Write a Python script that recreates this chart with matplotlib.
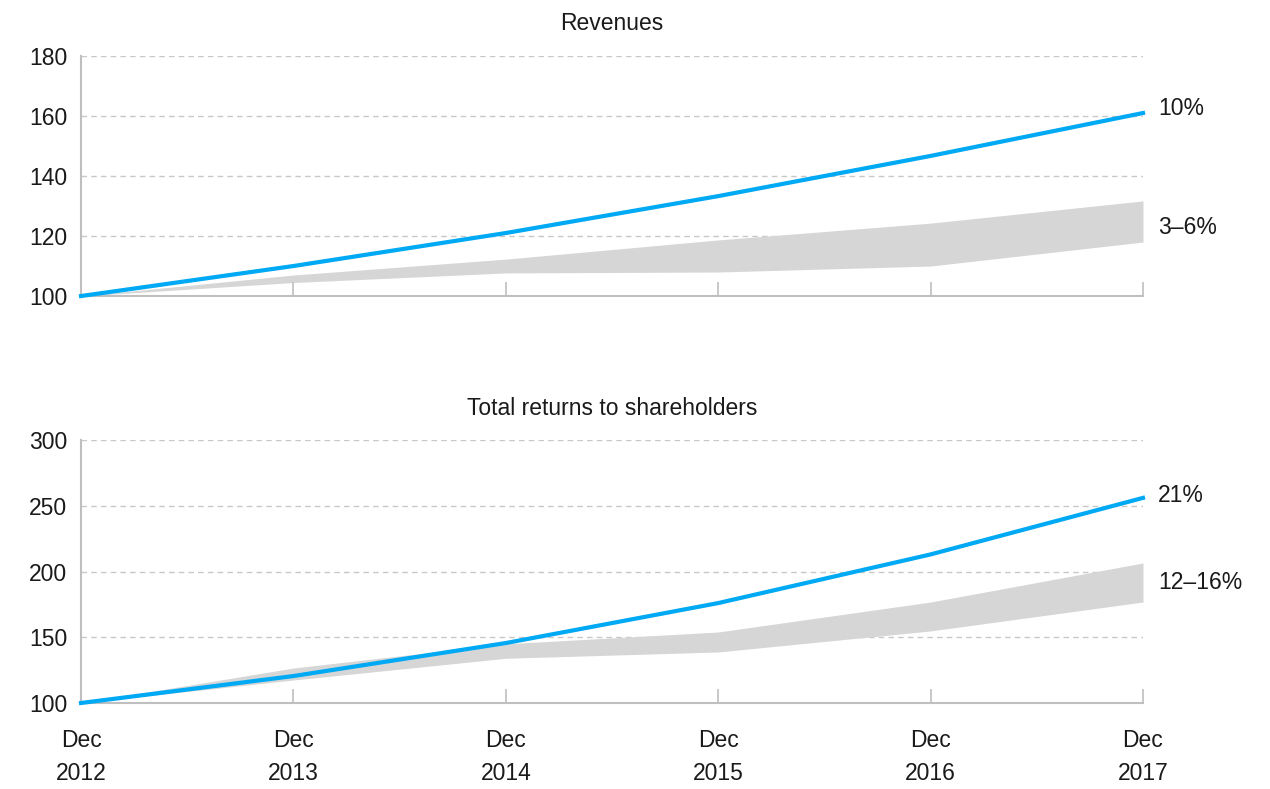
import numpy as np
import matplotlib.pyplot as plt

plt.rcParams['font.family'] = ['Liberation Sans', 'DejaVu Sans']

years = ['2012', '2013', '2014', '2015', '2016', '2017']
xlabels = ['Dec\n' + y for y in years]

# Revenues (indexed, Dec 2012 = 100)
rev_line = [100, 110, 121, 133.3, 146.7, 161]
rev_band_hi = [100, 107, 112.3, 118.7, 124.3, 131.7]
rev_band_lo = [100, 104.5, 107.7, 108, 110, 118]

# Total returns to shareholders
trs_line = [100, 120.5, 145.6, 176, 213, 256]
trs_band_hi = [100, 126.6, 145, 154, 176.8, 206.5]
trs_band_lo = [100, 117.5, 134, 138.8, 154.8, 176.8]

blue = '#00a9f4'
band = '#d6d6d6'
axis_gray = '#bfbfbf'
grid_gray = '#c8c8c8'
txt = '#1a1a1a'
fs = 16.5

fig = plt.figure(figsize=(12.7, 7.89), dpi=100)
ax1 = fig.add_axes([0.0638, 0.6248, 0.8362, 0.3042])
ax2 = fig.add_axes([0.0638, 0.109, 0.8362, 0.3333])

x = np.arange(len(years))


def style(ax, ymin, ymax, step):
    ax.set_xlim(0, len(years) - 1)
    ax.set_ylim(ymin, ymax)
    ax.set_yticks(np.arange(ymin, ymax + 1, step))
    for v in np.arange(ymin + step, ymax + 1, step):
        ax.axhline(v, color=grid_gray, lw=1, ls=(0, (4, 3)), zorder=0)
    for s in ['top', 'right']:
        ax.spines[s].set_visible(False)
    for s in ['left', 'bottom']:
        ax.spines[s].set_color(axis_gray)
        ax.spines[s].set_linewidth(1.5)
    ax.tick_params(axis='y', length=0, labelsize=fs, colors=txt, pad=10)
    ax.set_xticks(x)
    ax.tick_params(axis='x', direction='in', length=10, width=1.2,
                   color=axis_gray, labelsize=fs, colors=txt, pad=19)
    ax.tick_params(axis='x', labelcolor=txt)


style(ax1, 100, 180, 20)
ax1.fill_between(x, rev_band_lo, rev_band_hi, color=band, lw=0, zorder=1)
ax1.plot(x, rev_line, color=blue, lw=3, zorder=3, clip_on=False)
ax1.set_xticklabels([])
ax1.set_title('Revenues', fontsize=fs, color=txt, pad=19)
ax1.text(5.07, rev_line[-1] + 1.5, '10%', fontsize=fs, color=txt, va='center')
ax1.text(5.07, 122.8, '3\u20136%', fontsize=fs, color=txt, va='center')

style(ax2, 100, 300, 50)
ax2.fill_between(x, trs_band_lo, trs_band_hi, color=band, lw=0, zorder=1)
ax2.plot(x, trs_line, color=blue, lw=3, zorder=3, clip_on=False)
ax2.set_xticklabels(xlabels, linespacing=1.55)
ax2.set_title('Total returns to shareholders', fontsize=fs, color=txt, pad=18)
ax2.text(5.07, trs_line[-1] + 2, '21%', fontsize=fs, color=txt, va='center')
ax2.text(5.07, 192, '12\u201316%', fontsize=fs, color=txt, va='center')

fig.savefig('out.png', dpi=100)
